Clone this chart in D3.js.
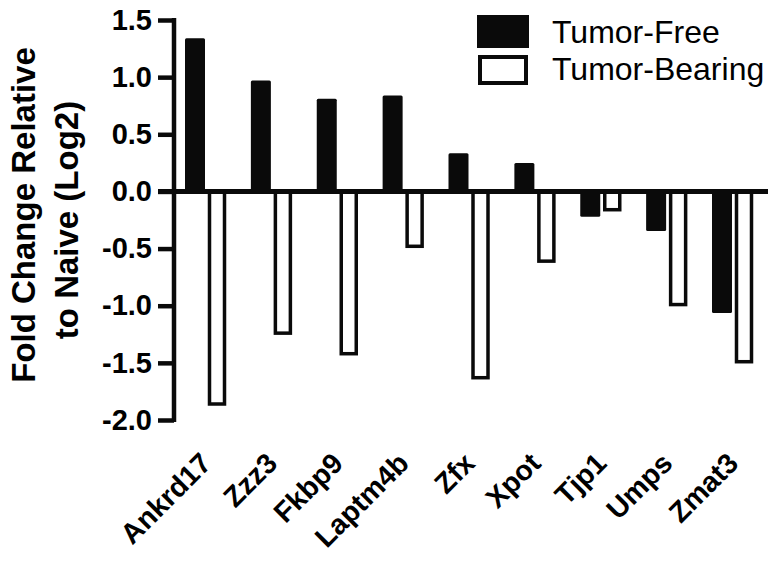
<!DOCTYPE html>
<html>
<head>
<meta charset="utf-8">
<script src="https://cdn.jsdelivr.net/npm/d3@7"></script>
<style>
  html, body { margin: 0; padding: 0; background: #fff; }
  svg { display: block; }
  text { font-family: "Liberation Sans", Arial, Helvetica, sans-serif; fill: #000; }
</style>
</head>
<body>
<svg id="chart" width="774" height="568"></svg>
<script>
const categories = ["Ankrd17", "Zzz3", "Fkbp9", "Laptm4b", "Zfx", "Xpot", "Tjp1", "Umps", "Zmat3"];
const tumorFree = [1.34, 0.97, 0.81, 0.84, 0.335, 0.248, -0.221, -0.346, -1.064];
const tumorBearing = [-1.86, -1.24, -1.42, -0.48, -1.63, -0.61, -0.16, -0.99, -1.49];
const yTicks = [-2.0, -1.5, -1.0, -0.5, 0.0, 0.5, 1.0, 1.5];
const seriesNames = ["Tumor-Free", "Tumor-Bearing"];
const yTitle = ["Fold Change Relative", "to Naive (Log2)"];

const svg = d3.select("#chart");

const y = d3.scaleLinear().domain([-2.0, 1.5]).range([420, 20]);
const x = d3.scaleBand().domain(categories).range([185, 185 + 65.875 * 9]).padding(0);

const barW = 20;
const whiteOffset = 24.5, whiteW = 15, whiteStroke = 3.5;

// Tumor-Free bars (black)
svg.append("g").selectAll("rect")
  .data(categories.map((c, i) => ({c, v: tumorFree[i]})))
  .join("rect")
  .attr("x", d => x(d.c))
  .attr("width", barW)
  .attr("y", d => Math.min(y(d.v), y(0)))
  .attr("height", d => Math.abs(y(d.v) - y(0)))
  .attr("rx", 1.5)
  .attr("fill", "#0a0a0a");

// Tumor-Bearing bars (white outlined)
svg.append("g").selectAll("rect")
  .data(categories.map((c, i) => ({c, v: tumorBearing[i]})))
  .join("rect")
  .attr("x", d => x(d.c) + whiteOffset)
  .attr("width", whiteW)
  .attr("y", d => Math.min(y(d.v), y(0)))
  .attr("height", d => Math.abs(y(d.v) - y(0)))
  .attr("fill", "#fff")
  .attr("stroke", "#0a0a0a")
  .attr("stroke-width", whiteStroke);

// zero line
svg.append("line")
  .attr("x1", 158).attr("x2", 768)
  .attr("y1", y(0)).attr("y2", y(0))
  .attr("stroke", "#0a0a0a").attr("stroke-width", 5);

// y axis
const yAxis = d3.axisLeft(y)
  .tickValues(yTicks)
  .tickFormat(d => d.toFixed(1))
  .tickSize(16)
  .tickSizeOuter(0)
  .tickPadding(6);
const gy = svg.append("g").attr("transform", "translate(174,0)").call(yAxis);
gy.select(".domain").attr("stroke", "#0a0a0a").attr("stroke-width", 4.5)
  .attr("d", `M0,${y(1.5) - 2}V${y(-2.0) + 2}`);
gy.selectAll(".tick line").attr("stroke", "#0a0a0a").attr("stroke-width", 4.5);
gy.selectAll(".tick text")
  .style("font-family", "'Liberation Sans', Arial, sans-serif")
  .style("font-weight", "bold")
  .style("font-size", "29px")
  .attr("fill", "#000");

// y axis title
svg.append("text")
  .attr("transform", "translate(35,215) rotate(-90)")
  .attr("text-anchor", "middle")
  .style("font-weight", "bold").style("font-size", "33px")
  .text(yTitle[0]);
svg.append("text")
  .attr("transform", "translate(78,220) rotate(-90)")
  .attr("text-anchor", "middle")
  .style("font-weight", "bold").style("font-size", "33px")
  .text(yTitle[1]);

// x category labels
svg.append("g").selectAll("text")
  .data(categories)
  .join("text")
  .attr("transform", d => `translate(${x(d) + 28},465) rotate(-45)`)
  .attr("text-anchor", "end")
  .style("font-weight", "bold").style("font-size", "28.5px")
  .text(d => d);

// legend
const legend = svg.append("g");
legend.append("rect").attr("x", 477).attr("y", 15).attr("width", 52).attr("height", 33).attr("fill", "#0a0a0a");
legend.append("rect").attr("x", 480).attr("y", 57).attr("width", 46).attr("height", 26)
  .attr("fill", "#fff").attr("stroke", "#0a0a0a").attr("stroke-width", 4);
legend.selectAll("text.lg")
  .data(seriesNames)
  .join("text")
  .attr("class", "lg")
  .attr("x", 552)
  .attr("y", (d, i) => 43 + i * 37)
  .style("font-size", "32px")
  .text(d => d);
</script>
</body>
</html>
